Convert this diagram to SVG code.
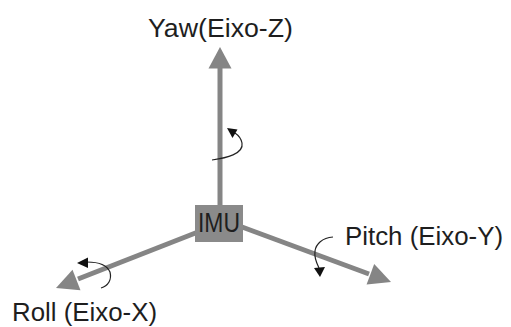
<svg xmlns="http://www.w3.org/2000/svg" width="511" height="327" viewBox="0 0 511 327">
  <style>
    .axis { stroke: #858585; stroke-width: 5; fill: none; }
    .head { fill: #858585; }
    .rot { stroke: #222; stroke-width: 1.2; fill: none; }
    .rothead { fill: #111; }
    .label { font-family: "Liberation Sans", Arial, sans-serif; font-size: 26px; fill: #1e1e1e; }
  </style>
  <rect width="511" height="327" fill="#ffffff"/>

  <g id="connectors">
    <!-- Z axis (up) -->
    <line class="axis" x1="220" y1="206" x2="220" y2="66"/>
    <polygon class="head" points="220,47 208.5,68.5 231.5,68.5"/>
    <!-- X axis (down-left) -->
    <line class="axis" x1="198" y1="232" x2="78" y2="279"/>
    <polygon class="head" points="56,288 80.5,290.3 72.5,269.7"/>
    <!-- Y axis (down-right) -->
    <line class="axis" x1="242" y1="227" x2="369" y2="274"/>
    <polygon class="head" points="391,282 366.6,284.6 374.2,264"/>
  </g>

  <g id="rotations">
    <!-- yaw rotation -->
    <path class="rot" d="M212,160 C226,158 244,154 242,143 C241,138 238,135 235,133"/>
    <polygon class="rothead" points="227,128 237.5,129.5 232.5,138"/>
    <!-- roll rotation -->
    <path class="rot" d="M87,262 C98,262 107,265 110,272 C112,280 108,286 101,288"/>
    <polygon class="rothead" points="77,263 88,257.5 88,268"/>
    <!-- pitch rotation -->
    <path class="rot" d="M333,237 C322,238 316,244 315,251 C314,258 317,264 319,268"/>
    <polygon class="rothead" points="320,277 314,268 325,267"/>
  </g>

  <g id="imu">
    <rect x="195" y="205" width="48" height="37" fill="#8a8a8a"/>
    <text class="label" x="198" y="232" textLength="42" lengthAdjust="spacingAndGlyphs" style="font-size:27px">IMU</text>
  </g>

  <g id="yaw-label">
    <text class="label" x="148" y="37" textLength="145" lengthAdjust="spacingAndGlyphs">Yaw(Eixo-Z)</text>
  </g>
  <g id="pitch-label">
    <text class="label" x="345" y="245" textLength="158" lengthAdjust="spacingAndGlyphs">Pitch (Eixo-Y)</text>
  </g>
  <g id="roll-label">
    <text class="label" x="12" y="321" textLength="145" lengthAdjust="spacingAndGlyphs">Roll (Eixo-X)</text>
  </g>
</svg>
